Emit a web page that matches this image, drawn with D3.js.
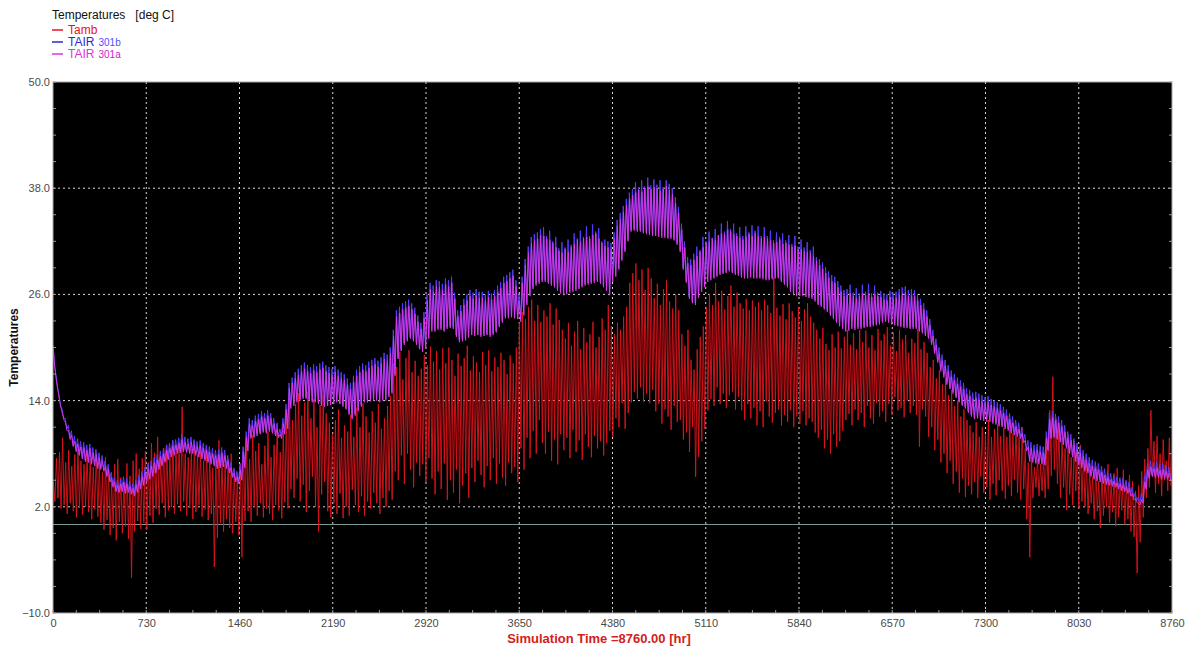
<!DOCTYPE html>
<html>
<head>
<meta charset="utf-8">
<script src="https://cdn.jsdelivr.net/npm/d3@7/dist/d3.min.js"></script>
<style>
  html, body { margin: 0; padding: 0; background: #ffffff; }
  svg { display: block; font-family: "Liberation Sans", Arial, sans-serif; }
</style>
</head>
<body>
<svg id="chart" width="1189" height="648"></svg>
<script>
// ---------------- DATA (daily max / min, deg C) ----------------
const xTicks = [0, 730, 1460, 2190, 2920, 3650, 4380, 5110, 5840, 6570, 7300, 8030, 8760];
const yTicks = [-10, 2, 14, 26, 38, 50];
const seriesNames = ["Tamb", "TAIR 301b", "TAIR 301a"];

const tambMax = [
4.8,7.5,8.2,9.8,7.0,8.4,6.6,7.9,8.5,7.2,
6.8,8.0,7.4,6.5,8.1,7.0,5.9,7.6,6.2,5.0,
6.8,7.4,5.3,4.8,6.9,5.5,7.2,8.0,6.3,7.5,
8.3,7.0,9.2,8.1,9.9,7.4,8.6,9.0,7.8,9.5,
8.2,8.8,13.3,8.0,7.6,8.5,9.4,7.9,8.3,7.2,
8.6,7.8,6.4,7.2,9.5,7.6,6.8,7.4,8.0,6.2,
5.5,6.9,8.6,9.8,7.4,10.1,8.3,9.2,6.8,8.9,
10.5,7.6,9.0,11.5,8.2,10.6,12.5,14.2,11.8,13.6,
14.8,12.3,13.8,15.0,12.0,14.2,11.0,13.5,14.6,12.6,
11.5,10.2,11.8,13.0,9.8,11.2,10.5,12.4,9.9,13.2,
11.0,13.7,12.2,10.4,12.8,11.5,13.6,10.8,12.0,13.4,
14.5,18.2,17.8,19.5,16.4,18.8,19.7,17.2,18.5,16.8,
17.6,19.2,18.0,20.1,18.4,19.6,17.5,19.9,18.2,20.0,
18.6,16.8,19.3,17.9,18.8,20.2,17.4,19.0,18.3,17.2,
19.5,18.0,19.7,17.3,18.9,17.8,19.4,18.6,17.0,19.1,
18.2,20.0,22.8,24.0,23.2,24.6,25.4,23.0,24.8,22.9,
24.2,23.5,25.0,22.6,24.4,23.1,22.0,21.0,22.8,20.2,
21.8,23.0,19.8,22.2,20.6,21.5,22.9,20.0,21.2,23.3,
22.0,24.8,22.4,21.5,22.8,22.0,23.5,24.6,27.3,28.4,
29.5,27.6,28.8,26.5,29.0,27.8,25.6,27.2,24.8,26.6,
27.6,25.2,24.4,26.0,24.2,21.5,20.2,22.0,18.6,17.5,
19.8,21.2,22.4,24.6,26.0,24.8,27.3,25.2,26.4,24.3,
25.8,27.0,24.6,26.2,25.0,24.4,25.5,24.2,25.3,24.6,
25.1,24.2,25.4,24.8,23.9,28.0,24.5,23.6,24.9,23.2,
25.0,24.1,23.4,24.6,23.0,24.3,25.0,23.5,22.8,22.0,
21.0,22.2,20.4,19.7,21.5,20.0,21.8,19.9,21.2,22.0,
20.3,21.6,19.8,22.0,20.6,21.9,20.0,21.4,19.7,22.1,
20.8,21.5,22.3,20.2,21.7,19.6,22.0,20.9,21.4,19.4,
21.0,20.5,22.1,19.8,20.6,19.4,17.8,18.6,16.5,17.4,
15.8,16.6,14.6,15.2,13.4,14.0,12.2,13.0,11.8,11.2,
10.4,11.6,9.9,11.0,10.2,11.8,9.9,10.8,11.3,10.0,
10.9,9.9,11.5,10.3,10.8,9.9,11.0,8.6,7.0,7.6,
6.5,7.4,6.8,7.6,8.8,12.9,16.7,12.0,10.7,9.8,
8.6,10.2,7.6,9.4,8.2,9.0,7.8,6.9,6.2,5.4,
6.6,4.9,6.0,5.2,6.8,4.7,5.8,6.4,5.0,6.2,
4.8,5.6,4.9,3.8,4.4,6.0,7.4,8.6,12.9,9.4,
10.0,8.0,9.6,7.2,9.8];

const tambMin = [
2.6,3.0,1.8,2.2,1.2,2.4,1.5,0.8,1.9,1.1,
2.0,1.4,0.6,1.7,0.9,0.2,-0.6,0.5,-1.2,-0.4,
-1.8,0.3,-1.0,-0.2,-1.6,-6.0,-0.8,0.4,-0.5,0.2,
-0.6,1.0,0.2,1.8,1.1,2.4,0.8,1.6,2.0,1.2,
2.3,1.5,2.6,1.0,1.9,0.6,1.4,2.2,0.9,1.7,
0.5,1.2,-4.8,-1.5,0.2,-0.8,0.6,-0.4,-1.0,0.3,
-1.2,-3.7,0.4,1.5,0.3,2.0,1.0,2.4,0.8,1.8,
1.2,0.5,2.2,1.6,0.7,2.5,1.8,4.0,3.0,5.2,
2.6,4.5,1.4,3.8,5.4,2.0,-0.8,3.4,4.8,1.5,
0.8,2.4,1.2,3.5,0.7,2.0,1.0,3.9,2.2,1.4,
3.2,1.0,2.6,1.8,3.6,2.4,1.2,3.0,2.0,3.8,
2.8,6.0,5.0,7.8,4.6,8.0,6.2,4.2,7.0,5.5,
6.8,4.8,7.5,5.2,3.4,6.0,4.0,6.9,2.8,5.0,
3.6,6.2,2.4,4.4,5.8,3.0,6.4,4.8,7.2,5.6,
4.2,6.6,5.0,7.5,4.6,6.9,5.3,4.4,7.0,5.8,
6.5,4.8,8.6,6.2,9.8,7.5,10.6,8.0,11.8,9.2,
8.0,10.5,7.2,9.6,6.8,10.2,8.4,9.8,7.5,10.7,
8.2,9.5,7.3,10.2,8.8,7.6,10.0,8.6,9.4,7.8,
9.2,10.6,9.9,12.0,11.0,13.7,10.8,12.6,13.8,15.0,
14.2,15.5,13.9,14.8,13.7,15.2,12.8,13.6,11.4,13.0,
12.2,10.7,13.4,11.6,11.8,9.6,10.4,8.2,11.0,5.4,
7.6,9.4,10.8,12.9,14.2,13.4,15.5,13.6,14.8,13.2,
14.6,15.0,13.0,14.4,12.9,11.8,13.6,12.0,13.2,11.2,
12.8,11.0,13.9,12.2,11.5,12.6,13.0,11.2,12.4,11.6,
12.9,11.0,12.2,11.4,12.8,11.2,12.0,11.6,10.4,9.8,
10.7,8.6,9.6,8.0,10.2,8.8,9.4,10.6,11.8,12.5,
11.2,13.0,11.8,12.6,11.0,13.4,12.0,11.4,13.7,12.2,
12.8,11.6,13.6,12.4,14.4,12.9,13.2,12.1,14.0,12.6,
13.4,12.4,8.8,13.0,12.2,9.9,11.0,8.4,9.6,7.0,
8.0,5.8,7.2,4.6,6.0,3.6,5.2,3.1,4.4,3.4,
4.8,3.0,5.4,3.6,4.2,2.8,4.6,3.3,5.0,3.8,
2.9,4.4,3.2,5.1,3.6,2.8,4.0,0.6,-3.7,3.0,
4.2,3.2,3.8,3.0,4.0,5.5,6.2,4.6,3.0,4.2,
1.6,3.4,2.2,3.8,1.8,2.6,2.0,1.2,2.4,0.6,
1.5,-0.4,1.0,2.0,0.2,1.4,-0.2,0.8,1.6,0.0,
0.6,-0.8,-1.4,-5.5,-2.0,0.8,3.0,4.2,5.5,3.6,
4.6,3.2,5.0,3.8,4.4];

const tair301bMax = [
20.3,16.8,14.6,13.0,12.0,11.2,10.6,10.0,9.7,9.4,
9.3,9.0,9.1,8.7,8.5,8.1,7.8,7.2,6.8,5.9,
5.3,5.0,5.1,5.4,5.2,4.9,4.6,5.0,5.6,6.0,
6.5,6.9,7.2,7.6,7.9,8.3,8.6,9.0,9.2,9.5,
9.6,9.8,10.2,9.9,9.7,9.9,9.6,9.4,9.5,9.2,
9.0,8.8,8.6,8.4,8.5,8.7,8.4,7.8,7.0,6.4,
6.0,6.8,8.8,10.5,12.0,11.8,12.3,12.5,12.8,12.6,
12.9,12.6,12.0,11.4,10.8,12.0,13.6,16.0,16.6,17.2,
17.6,18.0,18.3,18.0,17.8,18.1,17.9,18.2,18.4,18.0,
17.8,17.6,17.9,17.5,17.2,17.0,16.5,16.0,16.8,17.5,
17.9,18.2,18.0,18.4,18.6,18.8,18.5,18.9,19.4,19.2,
20.0,22.0,24.2,24.6,25.0,25.2,25.4,25.0,24.5,23.6,
22.8,24.0,26.0,27.3,27.0,27.6,27.5,27.2,27.8,27.6,
28.0,26.2,24.2,24.8,25.5,26.0,26.5,26.2,26.6,26.3,
26.3,26.0,26.4,26.1,26.5,27.0,27.4,28.0,28.2,28.5,
28.8,27.6,26.0,28.0,30.0,31.4,32.5,32.8,33.0,33.4,
33.6,32.6,33.2,32.0,32.5,31.2,31.9,31.3,32.2,31.6,
32.9,32.3,33.2,32.5,33.7,32.6,33.9,33.1,33.5,32.0,
32.2,32.0,31.8,33.0,34.4,35.2,36.0,36.8,37.5,37.9,
38.7,38.0,38.9,38.2,39.2,38.3,39.0,38.4,38.9,38.1,
38.9,38.5,38.0,37.0,35.9,34.0,32.0,30.2,30.0,30.6,
31.4,31.0,32.5,32.0,33.1,32.4,33.4,32.7,34.0,33.1,
34.3,33.4,34.0,32.9,33.6,32.6,33.7,33.0,33.8,33.2,
33.7,32.6,33.6,32.6,33.2,32.1,33.0,32.5,32.9,32.1,
32.7,31.7,32.6,31.4,32.2,31.3,31.9,31.0,31.4,30.2,
30.0,29.6,29.1,28.6,28.2,28.0,27.5,27.0,26.5,26.6,
27.1,26.2,26.7,26.1,27.1,26.3,27.2,26.1,27.0,26.2,
26.4,26.1,26.0,26.4,26.2,26.3,26.6,26.8,26.9,26.5,
26.6,26.5,26.0,25.5,25.0,24.2,23.2,22.0,21.0,20.0,
19.2,18.6,18.0,17.4,17.0,16.6,16.3,16.0,15.4,15.2,
14.9,15.0,14.8,14.6,14.4,14.5,14.2,14.0,13.8,13.6,
13.3,13.0,12.6,12.2,11.8,11.5,11.0,10.2,9.5,9.3,
9.0,9.1,8.9,8.8,10.5,12.6,12.8,12.5,12.2,11.8,
11.2,10.5,10.2,9.7,9.2,8.8,8.4,8.0,7.6,7.3,
7.1,6.9,6.6,6.3,6.0,5.8,5.6,5.4,5.3,5.2,
5.0,4.8,4.2,3.6,3.1,3.5,5.5,6.9,7.2,7.0,
7.1,6.8,6.9,6.7,6.5];

const tair301bMin = [
18.0,15.4,13.4,12.0,10.8,9.8,9.0,8.4,8.0,7.6,
7.3,7.2,7.0,6.8,6.5,6.4,6.2,5.6,5.0,4.4,
3.9,3.8,3.9,3.7,3.8,3.6,3.4,3.8,4.2,4.6,
5.0,5.3,5.6,6.0,6.4,6.8,7.2,7.5,7.8,8.0,
8.2,8.3,8.4,8.3,8.2,8.2,8.0,7.8,7.6,7.4,
7.2,7.0,6.8,6.5,6.6,6.7,6.5,6.0,5.5,5.0,
4.8,5.2,6.6,8.5,9.9,10.0,10.2,10.4,10.6,10.5,
10.7,10.5,10.2,10.0,9.9,10.4,11.0,13.3,13.6,14.0,
14.2,14.4,14.4,14.2,14.0,14.0,13.8,13.6,13.5,13.6,
13.7,13.8,14.0,13.8,13.5,13.2,12.6,12.1,12.5,13.0,
13.5,14.0,14.0,14.1,14.2,14.2,14.0,14.2,14.2,14.6,
15.0,17.0,18.9,19.8,20.5,20.9,21.2,20.9,20.5,20.0,
19.7,20.2,21.2,22.0,22.0,22.2,22.2,22.0,22.3,22.4,
22.3,21.4,20.8,20.9,21.0,21.3,21.6,21.5,21.6,21.4,
21.5,21.6,21.4,21.6,21.9,22.5,23.0,23.5,23.5,23.6,
23.5,23.4,23.1,23.8,25.0,26.0,26.8,27.2,27.4,27.6,
27.6,27.4,27.2,27.0,26.6,26.3,26.1,26.2,26.4,26.5,
26.6,26.8,27.0,27.2,27.3,27.4,27.5,27.6,27.4,27.0,
26.6,26.1,27.6,28.2,29.0,30.0,31.0,32.2,33.3,33.4,
33.3,33.3,33.1,33.0,32.9,32.8,32.8,32.7,32.6,32.6,
32.5,32.5,32.3,31.8,31.0,29.0,27.5,25.7,25.2,25.0,
25.8,26.5,27.0,27.6,27.8,28.0,28.2,28.4,28.5,28.6,
28.8,28.6,28.4,28.3,28.1,28.0,28.0,28.1,28.0,28.0,
28.0,27.9,27.8,27.8,27.9,28.0,28.0,27.6,27.3,27.0,
26.5,26.1,26.0,26.0,26.0,25.9,25.8,25.7,25.4,25.0,
24.8,24.5,24.2,23.8,23.4,23.0,22.6,22.3,22.0,22.1,
22.3,22.2,22.3,22.3,22.4,22.5,22.5,22.6,22.7,22.8,
23.0,23.1,23.0,22.8,22.7,22.6,22.5,22.4,22.4,22.3,
22.3,22.3,22.0,21.8,21.5,21.2,20.5,19.5,18.5,17.5,
16.8,16.0,15.5,15.0,14.5,14.0,13.6,13.3,12.8,12.4,
12.1,12.2,12.0,11.9,11.8,11.8,11.6,11.5,11.3,11.2,
11.0,10.8,10.5,10.3,10.1,9.9,9.4,8.5,7.3,7.2,
7.1,7.0,7.0,6.9,8.5,9.9,10.0,9.8,9.5,9.2,
8.8,8.2,7.8,7.3,6.9,6.6,6.2,6.0,5.6,5.3,
5.1,5.0,4.8,4.7,4.6,4.5,4.4,4.2,4.0,3.9,
3.7,3.4,3.0,2.7,2.4,2.6,4.2,5.4,5.6,5.5,
5.5,5.3,5.4,5.3,5.2];

const tair301aMax = [
19.8,16.3,14.1,12.5,11.5,10.6,10.1,9.4,9.1,8.8,
8.7,8.4,8.6,8.1,7.9,7.5,7.2,6.6,6.2,5.3,
4.8,4.4,4.6,4.8,4.6,4.3,4.1,4.5,5.0,5.4,
5.9,6.3,6.6,7.0,7.3,7.7,8.0,8.4,8.6,8.9,
9.0,9.2,9.6,9.3,9.1,9.3,9.0,8.8,8.9,8.6,
8.4,8.2,8.0,7.8,7.9,8.1,7.8,7.2,6.4,5.8,
5.4,6.2,8.2,9.9,11.4,11.2,11.7,11.9,12.2,12.0,
12.3,12.0,11.4,10.8,10.2,11.4,13.0,15.4,16.0,16.5,
16.9,17.3,17.6,17.3,17.1,17.4,17.2,17.5,17.7,17.3,
17.1,16.9,17.2,16.8,16.5,16.3,15.8,15.3,16.1,16.8,
17.2,17.5,17.3,17.7,17.9,18.1,17.8,18.2,18.7,18.5,
19.3,21.3,23.5,23.9,24.3,24.5,24.7,24.3,23.8,22.9,
22.1,23.3,25.3,26.6,26.3,26.9,26.8,26.5,27.1,26.9,
27.3,25.5,23.5,24.1,24.8,25.3,25.8,25.5,25.9,25.6,
25.6,25.3,25.7,25.4,25.8,26.3,26.7,27.3,27.5,27.8,
28.1,26.9,25.3,27.3,29.3,30.7,31.8,32.1,32.3,32.7,
32.6,32.3,32.1,31.8,31.3,30.9,30.7,31.1,30.8,31.3,
31.7,32.2,31.9,32.3,32.5,32.3,32.7,32.9,32.3,31.8,
31.5,31.3,31.1,32.3,33.7,34.5,35.3,36.1,36.8,37.2,
37.5,37.8,37.6,38.0,38.2,37.9,38.1,38.0,37.7,37.9,
38.2,37.8,37.3,36.3,35.2,33.3,31.3,29.5,29.3,29.9,
30.3,30.8,31.3,31.8,31.9,32.3,32.1,32.7,32.9,32.8,
33.3,33.1,32.8,32.6,32.4,32.2,32.5,32.8,32.6,32.9,
32.6,32.3,32.5,32.3,32.1,31.8,31.9,32.2,31.7,31.8,
31.6,31.4,31.5,31.1,31.1,30.9,30.8,30.7,30.3,29.8,
29.3,28.9,28.4,27.9,27.5,27.3,26.8,26.3,25.8,25.9,
26.1,25.8,25.6,25.8,26.1,25.9,26.1,25.7,26.0,25.8,
25.7,25.4,25.3,25.7,25.5,25.6,25.9,26.1,26.2,25.8,
25.9,25.8,25.3,24.8,24.3,23.5,22.5,21.3,20.3,19.3,
18.5,17.9,17.3,16.7,16.3,15.9,15.6,15.3,14.7,14.5,
14.2,14.3,14.1,13.9,13.7,13.8,13.5,13.3,13.1,12.9,
12.6,12.3,11.9,11.5,11.1,10.8,10.3,9.5,8.8,8.6,
8.3,8.4,8.2,8.1,9.8,11.9,12.1,11.8,11.5,11.1,
10.5,9.8,9.5,9.0,8.5,8.1,7.7,7.3,6.9,6.6,
6.4,6.2,5.9,5.6,5.3,5.1,4.9,4.7,4.6,4.5,
4.3,4.1,3.5,2.9,2.4,2.8,4.8,6.2,6.5,6.3,
6.4,6.1,6.2,6.0,5.8];

const tair301aMin = [
17.8,15.2,13.2,11.8,10.6,9.6,8.8,8.2,7.8,7.4,
7.1,7.0,6.8,6.6,6.3,6.2,6.0,5.4,4.8,4.2,
3.7,3.6,3.7,3.5,3.6,3.4,3.2,3.6,4.0,4.4,
4.8,5.1,5.4,5.8,6.2,6.6,7.0,7.3,7.6,7.8,
8.0,8.1,8.2,8.1,8.0,8.0,7.8,7.6,7.4,7.2,
7.0,6.8,6.6,6.3,6.4,6.5,6.3,5.8,5.3,4.8,
4.6,5.0,6.4,8.3,9.7,9.8,10.0,10.2,10.4,10.3,
10.5,10.3,10.0,9.8,9.7,10.2,10.8,13.1,13.4,13.8,
14.0,14.2,14.2,14.0,13.8,13.8,13.6,13.4,13.3,13.4,
13.5,13.6,13.8,13.6,13.3,13.0,12.4,11.9,12.3,12.8,
13.3,13.8,13.8,13.9,14.0,14.0,13.8,14.0,14.0,14.4,
14.8,16.8,18.7,19.6,20.3,20.7,21.0,20.7,20.3,19.8,
19.5,20.0,21.0,21.8,21.8,22.0,22.0,21.8,22.1,22.2,
22.1,21.2,20.6,20.7,20.8,21.1,21.4,21.3,21.4,21.2,
21.3,21.4,21.2,21.4,21.7,22.3,22.8,23.3,23.3,23.4,
23.3,23.2,22.9,23.6,24.8,25.8,26.6,27.0,27.2,27.4,
27.4,27.2,27.0,26.8,26.4,26.1,25.9,26.0,26.2,26.3,
26.4,26.6,26.8,27.0,27.1,27.2,27.3,27.4,27.2,26.8,
26.4,25.9,27.4,28.0,28.8,29.8,30.8,32.0,33.1,33.2,
33.1,33.1,32.9,32.8,32.7,32.6,32.6,32.5,32.4,32.4,
32.3,32.3,32.1,31.6,30.8,28.8,27.3,25.5,25.0,24.8,
25.6,26.3,26.8,27.4,27.6,27.8,28.0,28.2,28.3,28.4,
28.6,28.4,28.2,28.1,27.9,27.8,27.8,27.9,27.8,27.8,
27.8,27.7,27.6,27.6,27.7,27.8,27.8,27.4,27.1,26.8,
26.3,25.9,25.8,25.8,25.8,25.7,25.6,25.5,25.2,24.8,
24.6,24.3,24.0,23.6,23.2,22.8,22.4,22.1,21.8,21.9,
22.1,22.0,22.1,22.1,22.2,22.3,22.3,22.4,22.5,22.6,
22.8,22.9,22.8,22.6,22.5,22.4,22.3,22.2,22.2,22.1,
22.1,22.1,21.8,21.6,21.3,21.0,20.3,19.3,18.3,17.3,
16.6,15.8,15.3,14.8,14.3,13.8,13.4,13.1,12.6,12.2,
11.9,12.0,11.8,11.7,11.6,11.6,11.4,11.3,11.1,11.0,
10.8,10.6,10.3,10.1,9.9,9.7,9.2,8.3,7.1,7.0,
6.9,6.8,6.8,6.7,8.3,9.7,9.8,9.6,9.3,9.0,
8.6,8.0,7.6,7.1,6.7,6.4,6.0,5.8,5.4,5.1,
4.9,4.8,4.6,4.5,4.4,4.3,4.2,4.0,3.8,3.7,
3.5,3.2,2.8,2.5,2.2,2.4,4.0,5.2,5.4,5.3,
5.3,5.1,5.2,5.1,5.0];

// ---------------- LAYOUT ----------------
const svg = d3.select("#chart");
const L = 53, R = 1172, T = 82, B = 613;
const x = d3.scaleLinear().domain([0, 8760]).range([L, R]);
const y = d3.scaleLinear().domain([-10, 50]).range([B, T]);

// Legend
const leg = svg.append("g");
leg.append("text").attr("x", 52).attr("y", 19).attr("font-size", 12).attr("fill", "#111")
   .attr("xml:space", "preserve").text("Temperatures   [deg C]");
const legItems = [
  { name: seriesNames[0], sub: "", col: "#e8141e", subCol: "#e8141e", ly: 30 },
  { name: "TAIR", sub: "301b", col: "#2a2ad0", subCol: "#5050ff", ly: 42 },
  { name: "TAIR", sub: "301a", col: "#e030e0", subCol: "#d020d0", ly: 54 }
];
legItems.forEach(it => {
  leg.append("line").attr("x1", 52).attr("x2", 63).attr("y1", it.ly).attr("y2", it.ly)
     .attr("stroke", it.col).attr("stroke-width", 1.5);
  const t = leg.append("text").attr("x", 68).attr("y", it.ly + 4).attr("font-size", 12).attr("fill", it.col);
  t.append("tspan").text(it.name);
  if (it.sub) t.append("tspan").attr("dx", 4).attr("font-size", 10).attr("fill", it.subCol).text(it.sub);
});

// Plot background
svg.append("rect").attr("x", L).attr("y", T).attr("width", R - L).attr("height", B - T).attr("fill", "#000");

// Grid lines (dotted)
const grid = svg.append("g");
grid.selectAll("line.v").data(xTicks.slice(1, -1)).enter().append("line")
  .attr("x1", d => x(d)).attr("x2", d => x(d)).attr("y1", T).attr("y2", B)
  .attr("stroke", "#d8d8d8").attr("stroke-width", 1).attr("stroke-dasharray", "2,3");
grid.selectAll("line.h").data(yTicks.slice(1, -1)).enter().append("line")
  .attr("x1", L).attr("x2", R).attr("y1", d => y(d)).attr("y2", d => y(d))
  .attr("stroke", "#d8d8d8").attr("stroke-width", 1).attr("stroke-dasharray", "2,3");

// Zero line
svg.append("line").attr("x1", L).attr("x2", R).attr("y1", y(0)).attr("y2", y(0))
  .attr("stroke", "#7a9c98").attr("stroke-width", 1);

// Clip
svg.append("clipPath").attr("id", "clip").append("rect")
  .attr("x", L).attr("y", T).attr("width", R - L).attr("height", B - T);

function zigzag(maxArr, minArr, off) {
  const n = Math.min(maxArr.length, minArr.length);
  const pts = [];
  for (let d = 0; d < n; d++) {
    pts.push([d * 24 + off, maxArr[d]]);
    pts.push([d * 24 + 12 + off, minArr[d]]);
  }
  return pts;
}
const line = d3.line().x(d => x(d[0])).y(d => y(d[1]));
const plot = svg.append("g").attr("clip-path", "url(#clip)");

plot.append("path").datum(zigzag(tambMax, tambMin, 3))
  .attr("fill", "none").attr("stroke", "#e0141c").attr("stroke-width", 0.9).attr("d", line);
plot.append("path").datum(zigzag(tair301bMax, tair301bMin, 0))
  .attr("fill", "none").attr("stroke", "#5a3cff").attr("stroke-width", 1).attr("d", line);
plot.append("path").datum(zigzag(tair301aMax, tair301aMin, 2))
  .attr("fill", "none").attr("stroke", "#e838e8").attr("stroke-width", 0.9).attr("stroke-opacity", 0.95).attr("d", line);

// Frame
svg.append("rect").attr("x", L).attr("y", T).attr("width", R - L).attr("height", B - T)
  .attr("fill", "none").attr("stroke", "#a8a8a8").attr("stroke-width", 1);

// Minor ticks (inside)
const minorY = d3.range(-10, 50.001, 3);
const minorX = d3.range(0, 8760.001, 182.5);
const mt = svg.append("g").attr("stroke", "#9a9a9a").attr("stroke-width", 1);
mt.selectAll("line.yl").data(minorY).enter().append("line")
  .attr("x1", L).attr("x2", L + 3).attr("y1", d => y(d)).attr("y2", d => y(d));
mt.selectAll("line.yr").data(minorY).enter().append("line")
  .attr("x1", R - 3).attr("x2", R).attr("y1", d => y(d)).attr("y2", d => y(d));
mt.selectAll("line.xb").data(minorX).enter().append("line")
  .attr("x1", d => x(d)).attr("x2", d => x(d)).attr("y1", B).attr("y2", B - 3);

// Axes
const xAxis = d3.axisBottom(x).tickValues(xTicks).tickSize(0).tickPadding(6).tickFormat(d3.format("d"));
const gx = svg.append("g").attr("transform", `translate(0,${B})`).call(xAxis);
gx.select(".domain").remove();
gx.selectAll("text").attr("font-size", 11).attr("fill", "#4a4a4a").attr("font-family", "Liberation Sans, Arial, sans-serif");

const yAxis = d3.axisLeft(y).tickValues(yTicks).tickSize(0).tickPadding(3).tickFormat(d3.format(".1f"));
const gy = svg.append("g").attr("transform", `translate(${L},0)`).call(yAxis);
gy.select(".domain").remove();
gy.selectAll("text").attr("font-size", 11).attr("fill", "#4a4a4a").attr("font-family", "Liberation Sans, Arial, sans-serif");

// Axis titles
svg.append("text").attr("transform", `translate(18,${(T + B) / 2}) rotate(-90)`)
  .attr("text-anchor", "middle").attr("font-size", 12).attr("font-weight", "bold").attr("fill", "#111")
  .text("Temperatures");
svg.append("text").attr("x", 599).attr("y", 643).attr("text-anchor", "middle")
  .attr("font-size", 13).attr("font-weight", "bold").attr("fill", "#d42020")
  .text("Simulation Time =8760.00 [hr]");
</script>
</body>
</html>
